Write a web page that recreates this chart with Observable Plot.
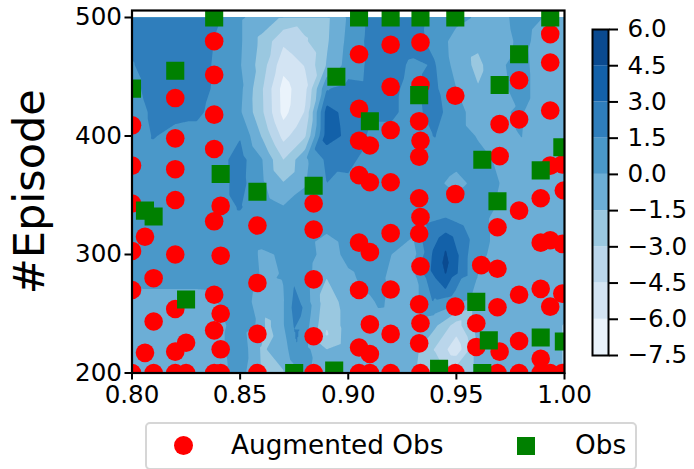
<!DOCTYPE html>
<html>
<head>
<meta charset="utf-8">
<script src="https://cdn.jsdelivr.net/npm/d3@7"></script>
<script src="https://cdn.jsdelivr.net/npm/@observablehq/plot@0.6"></script>
<style>
html,body{margin:0;padding:0;background:#fff;}
#chart{position:relative;width:694px;height:469px;overflow:hidden;font-family:"DejaVu Sans",sans-serif;}
#chart svg{position:absolute;left:0;top:0;}
#legend{position:absolute;left:145px;top:422px;width:488px;height:44px;border:2px solid #d6d6d6;border-radius:5px;background:#fff;font-size:26.3px;color:#000;}
#legend span{position:absolute;top:4px;white-space:pre;line-height:34px;}
#legend i{position:absolute;display:block;background:red;}
</style>
</head>
<body>
<div id="chart"></div>
<script>
// colour levels
const levels = [-7.5,-6,-4.5,-3,-1.5,0,1.5,3,4.5,6];
const bandColors = ["#eaf3fb","#d3e4f3","#bad6eb","#9ac8e0","#6caed6","#4a98c9","#2f7ebc","#1361a9","#0a4a90"];

// surface: column and row positions
const gridX = [0.80,0.81,0.82,0.83,0.84,0.85,0.86,0.87,0.88,0.89,0.90,0.91,0.92,0.93,0.94,0.95,0.96,0.97,0.98,0.99,1.00];
const row500 = [2.2,2.3,2.3,2.1,1.6,0.2,-0.6,-1.7,-2.3,-1.8,0.2,1.8,2,1.9,1.2,0.5,-0.2,-0.4,0.5,0,-0.6];
const row480 = [1.9,2.3,2.3,2.1,1.3,0.2,-1.9,-4.2,-3.2,-1.7,0.4,1.9,2.2,2,1.1,-0.7,-1.1,-0.7,0.4,-0.5,-0.7];
const row460 = [1.4,2.2,2.3,2.1,1.2,0.1,-2.2,-5.5,-4.4,-1.4,0.6,1.8,1.9,1.3,1.6,-0.6,-1.9,-0.2,0.5,-0.8,-0.7];
const row440 = [1.0,2.2,2.3,2.2,1.1,0.4,-2.8,-6.6,-5.0,1.4,2.1,1.9,1.7,1.2,1.8,0.0,-1.4,-0.3,0.5,-0.7,-0.7];
const row420 = [0.7,1.8,2,1.8,0.9,0.2,-2.7,-6.5,-4.4,3.7,2.4,1.7,1.7,1.1,2,0.7,-0.9,-0.1,0.1,-0.7,-0.7];
const row400 = [0.7,1.6,1.0,1.0,0.7,1.4,-1.6,-5.0,-3.2,3.8,2.6,1.3,1.2,1.0,1.55,0.7,-0.1,-0.7,0.03,-0.7,-0.7];
const row380 = [0.8,0.9,0.8,0.8,1.0,2.1,0.1,-3.0,-0.3,1.8,1.9,0.9,0.9,0.8,0.9,0.4,0.4,-0.2,-0.4,-0.7,-0.7];
const row360 = [0.8,0.9,0.8,0.8,1.0,2.0,0.3,-1.4,-0.1,1.5,1.2,0.8,0.8,0.7,0.3,-0.4,0.4,0,-0.7,-0.7,-0.7];
const row340 = [0.8,0.8,0.8,0.8,1,1.6,0.8,0.1,0.5,0.8,0.8,0.8,0.8,0.7,0.6,0.5,0.4,-0.1,-0.7,-0.7,-0.7];
const row320 = [0.8,0.8,0.8,0.8,0.9,0.9,0.7,0.6,0.6,0.1,0.6,0.6,0.2,0.2,2.1,2.3,0.5,-0.4,-0.7,-0.7,-0.7];
const row300 = [0.8,0.8,0.8,0.8,0.8,0.9,-0.2,0.15,0.8,-0.7,0.4,0.8,0,-0.6,3.4,3.4,0.5,-0.7,-0.7,-0.7,-0.7];
const row280 = [0.4,0.5,0.5,0.5,0.6,1.0,-0.1,0.05,0.7,-1.5,-0.3,0.5,-0.2,-0.6,2.9,2.0,-0.1,-0.7,-0.7,-0.7,-0.7];
const row260 = [-0.6,-0.6,-0.6,-0.6,0.05,0.8,-0.7,-0.1,0.8,-2.5,-0.7,-0.2,-0.6,-0.6,1.2,0.3,-0.7,-0.7,-0.7,-0.7,-0.7];
const row240 = [-0.7,-0.7,-0.7,-0.7,-0.4,0.7,-0.3,-0.1,0.7,-2.9,-0.7,-0.7,-0.8,-0.8,-1.2,-3.7,-0.7,-0.7,-0.7,-0.7,-1.6];
const row220 = [-0.7,-0.7,-0.7,-0.7,-0.4,1.0,-1.7,-0.8,0.5,-1.5,-0.6,-0.6,-0.9,-0.9,-3.1,-5.5,-1.4,-0.7,-0.7,-0.7,-1.6];
const row200 = [-0.7,-0.7,-0.7,-0.7,-0.5,0.6,-1.6,-1.6,0.3,-0.9,-1.1,-0.9,-1.7,-1.2,-1.7,-1.9,-1.4,-0.7,-0.7,-0.7,-1.6];
const gridY = [500,480,460,440,420,400,380,360,340,320,300,280,260,240,220,200];
const gridRows = [row500,row480,row460,row440,row420,row400,row380,row360,row340,row320,row300,row280,row260,row240,row220,row200];

// extra surface samples for narrow features: trough ring and centre, ridge, small patches
const lakeX = [0.9358,0.945,0.9533,0.9552,0.9496,0.939,0.9334, 0.945,0.9506,0.9506,0.945,0.9381,0.939, 0.945,0.9464,0.945,0.9436, 0.945];
const lakeY = [326.2,331.2,324.5,297.5,269.6,259.5,292.4, 318.6,301.7,284,270.5,286.5,303.4, 305,293.2,282.3,293.2, 293.2];
const lakeV = [1.5,1.5,1.5,1.5,1.5,1.5,1.5, 3,3,3,3,3,3, 4.5,4.5,4.5,4.5, 5.4];
const spikeX = [0.8761,0.8749,0.8775,0.8738,0.8789,0.8749,0.8775,0.8761,0.8761];
const spikeY = [289,273.8,273.8,255.3,255.3,236.7,236.7,221.5,255.3];
const spikeV = [1.5,1.5,1.5,1.5,1.5,1.5,1.5,1.5,2.3];
const patchX = [0.9154,0.8622,0.89];
const patchY = [261,239,233];
const patchV = [0.3,-2.0,-3.2];

// Augmented Obs
const augX = [0.838,0.838,0.820,0.838,0.820,0.838,0.820,0.800,0.800,0.905,0.9196,0.9334,0.9934,0.9934,0.9196,0.9334,0.9495,0.979,0.979,0.970,0.9934,0.905,0.9196,0.9328,0.9334,0.9328,0.905,0.910,0.905,0.910,0.9196,0.970,0.9934,0.999,0.9495,0.9328,0.989,0.9997,0.820,0.800,0.841,0.838,0.858,0.884,0.884,0.806,0.800,0.820,0.841,0.810,0.858,0.884,0.800,0.838,0.820,0.841,0.810,0.838,0.858,0.884,0.825,0.806,0.820,0.841,0.9334,0.9328,0.9196,0.905,0.910,0.969,0.979,0.989,0.9934,0.999,0.9334,0.9615,0.969,0.905,0.9196,0.989,0.979,0.999,0.9934,0.9328,0.9495,0.969,0.9334,0.9592,0.910,0.9196,0.979,0.905,0.910,0.9328,0.9592,0.970,0.989,0.800,0.810,0.820,0.825,0.838,0.841,0.858,0.884,0.905,0.910,0.9196,0.9334,0.9495,0.969,0.979,0.989,0.9934,0.999];
const augY = [480,451.6,432,418,398,389,372,409,375,469,477,479,486,462,441.5,443,434,447,414,410,421.5,423,405,412.5,396,382.5,396,392,367,361,361,383,375,376,351,347.5,347.5,354,346,343,341,328,324.5,343,321,315,303,300,299,280,276,279,270,266,254,250,243.5,236,233,231,225.5,217,218,220,331.5,317.5,318,310,302,323,337,310,312,309,290,291,288,270,270.5,271,266,267,256,258,256,255.5,242,242,241,233,227,221.5,216,225,222,218,212,200,200,200,200,200,200,200,200,200,200,200,200,200,200,200,200,200,200];

// Obs
const obsX = [0.838,0.820,0.800,0.841,0.858,0.884,0.8945,0.905,0.9196,0.9334,0.9495,0.9934,0.979,0.970,0.9328,0.910,0.962,0.989,0.999,0.969,0.806,0.810,0.825,0.875,0.8935,0.9592,0.965,0.989,0.9997,0.942,0.962];
const obsY = [500,455,440,368,353,358,450,500,500,500,500,500,469,443,434.5,412.5,380,371,390.5,345,337,332,262,200,202,260,227.5,230,226.6,203.5,200];

const tickX = [0.80,0.85,0.90,0.95,1.00];
const tickY = [200,300,400,500];
const yTop = 505.9;
const ySeries = "#Episode";
const legendAug = "Augmented Obs";
const legendObs = "Obs";

const surface = [];
gridRows.forEach((r,j)=>r.forEach((v,i)=>surface.push({x:gridX[i],y:gridY[j],v})));
lakeX.forEach((x,i)=>surface.push({x,y:lakeY[i],v:lakeV[i]}));
spikeX.forEach((x,i)=>surface.push({x,y:spikeY[i],v:spikeV[i]}));
patchX.forEach((x,i)=>surface.push({x,y:patchY[i],v:patchV[i]}));
const aug = augX.map((x,i)=>({x,y:augY[i]}));
const obs = obsX.map((x,i)=>({x,y:obsY[i]}));
const bands = bandColors.map((c,i)=>({lo:levels[i],hi:levels[i+1],c}));
const font = {fontFamily:"DejaVu Sans",fontSize:"24.6px",background:"transparent",color:"#000"};

const main = Plot.plot({
  width:694,height:469,
  marginLeft:131.5,marginRight:130,marginTop:10,marginBottom:96.5,
  style:font,
  x:{domain:[0.8,1]},
  y:{domain:[200,yTop]},
  color:{type:"ordinal",domain:levels.slice(0,-1),range:bandColors},
  marks:[
    Plot.contour(surface,{x:"x",y:"y",fill:"v",interpolate:"barycentric",pixelSize:1,thresholds:levels.slice(0,-1),stroke:"none",clip:"frame"}),
    Plot.rect([0],{x1:0.8,x2:1,y1:500,y2:yTop,fill:"white",clip:"frame"}),
    Plot.dot(aug,{x:"x",y:"y",r:9.3,fill:"red",stroke:"none",clip:"frame"}),
    Plot.dot(obs,{x:"x",y:"y",r:10.2,symbol:"square",fill:"green",stroke:"none",clip:"frame"}),
    Plot.axisX({ticks:tickX,tickFormat:d3.format(".2f"),tickSize:7,tickPadding:6,strokeWidth:2,label:null,fontSize:24.6,color:"#000"}),
    Plot.axisY({ticks:tickY,tickSize:7,tickPadding:3,strokeWidth:2,label:null,fontSize:24.6,color:"#000"}),
    Plot.frame({stroke:"#000",strokeWidth:2.2}),
    Plot.text([ySeries],{frameAnchor:"left",dx:-102,rotate:-90,fontSize:43,textAnchor:"middle",fill:"#000",fontFamily:"DejaVu Sans"})
  ]
});

const minusFmt = d=>d3.format(".1f")(d).replace("-","\u2212");
const bar = Plot.plot({
  width:694,height:469,
  marginLeft:592,marginRight:86,marginTop:29,marginBottom:114,
  style:font,
  x:{domain:[0,1],axis:null},
  y:{domain:[-7.5,6]},
  marks:[
    Plot.rect(bands,{x1:()=>0,x2:()=>1,y1:"lo",y2:"hi",fill:"c"}),
    Plot.axisY({anchor:"right",ticks:levels,tickFormat:minusFmt,tickSize:9,tickPadding:10,strokeWidth:2,label:null,fontSize:24.6,color:"#000"}),
    Plot.frame({stroke:"#000",strokeWidth:2})
  ]
});

const chart = document.getElementById("chart");
chart.appendChild(main);
chart.appendChild(bar);
const legend = document.createElement("div");
legend.id = "legend";
legend.innerHTML =
  '<i style="left:26.5px;top:11.5px;width:19px;height:19px;border-radius:50%;background:red"></i>'+
  '<span style="left:84px">'+legendAug+'</span>'+
  '<i style="left:370px;top:13px;width:18px;height:18px;background:green"></i>'+
  '<span style="left:428px">'+legendObs+'</span>';
chart.appendChild(legend);
</script>
</body>
</html>
